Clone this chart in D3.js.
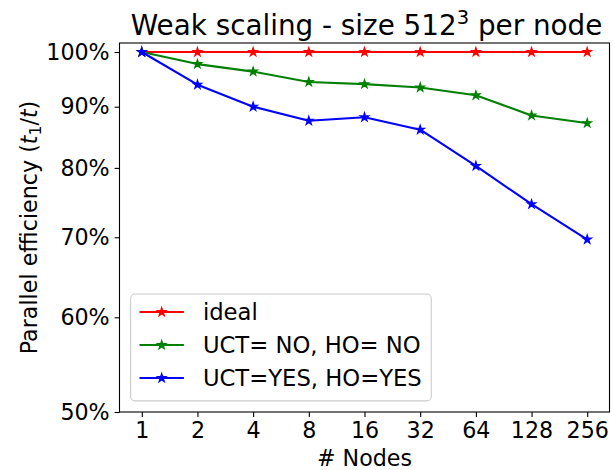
<!DOCTYPE html>
<html>
<head>
<meta charset="utf-8">
<script src="https://cdn.jsdelivr.net/npm/d3@7"></script>
<style>
  body { margin: 0; background: #fff; }
  text { font-family: "DejaVu Sans", sans-serif; fill: #000; }
</style>
</head>
<body>
<div id="chart"></div>
<script>
// data
const nodes = [1, 2, 4, 8, 16, 32, 64, 128, 256];
const ideal = [100, 100, 100, 100, 100, 100, 100, 100, 100];
const uctNo = [100, 97.7, 96.3, 94.4, 94.0, 93.4, 92.0, 88.5, 87.2];
const uctYes = [100, 93.9, 90.0, 87.6, 88.2, 86.1, 80.3, 74.6, 69.7];
const yTicks = [50, 60, 70, 80, 90, 100];
const seriesNames = ["ideal", "UCT= NO, HO= NO", "UCT=YES, HO=YES"];
const seriesColors = ["#ff0000", "#008000", "#0000ff"];

const width = 613, height = 470;
const margin = { top: 43, right: 3.5, bottom: 58, left: 119.5 };
const fs = 22.2;

const svg = d3.select("#chart")
  .append("svg")
  .attr("width", width)
  .attr("height", height);

const x = d3.scaleLog().base(2)
  .domain([Math.pow(2, -0.4), Math.pow(2, 8.4)])
  .range([margin.left, width - margin.right]);
const y = d3.scaleLog()
  .domain([50, 101.75])
  .range([height - margin.bottom, margin.top]);

// x axis
const xAxis = svg.append("g")
  .attr("transform", "translate(0," + (height - margin.bottom) + ")")
  .call(d3.axisBottom(x).tickValues(nodes).tickFormat(d => d)
    .tickSizeOuter(0).tickSize(4.9).tickPadding(4.9));
xAxis.select(".domain").remove();
xAxis.selectAll(".tick line").attr("stroke-width", 1.1);
xAxis.selectAll(".tick text").attr("font-size", fs).attr("font-family", "DejaVu Sans");

// y axis
const yAxis = svg.append("g")
  .attr("transform", "translate(" + margin.left + ",0)")
  .call(d3.axisLeft(y).tickValues(yTicks).tickFormat(d => d + "%")
    .tickSizeOuter(0).tickSize(4.9).tickPadding(4.9));
yAxis.select(".domain").remove();
yAxis.selectAll(".tick line").attr("stroke-width", 1.1);
yAxis.selectAll(".tick text").attr("font-size", fs).attr("font-family", "DejaVu Sans");

// lines + star markers
const line = d3.line()
  .x(d => x(d[0]))
  .y(d => y(d[1]));
const star = d3.symbol().type(d3.symbolStar).size(19.4);

[ideal, uctNo, uctYes].forEach((vals, i) => {
  const pts = nodes.map((n, j) => [n, vals[j]]);
  svg.append("path")
    .datum(pts)
    .attr("d", line)
    .attr("fill", "none")
    .attr("stroke", seriesColors[i])
    .attr("stroke-width", 2.1)
    .attr("stroke-linejoin", "round")
    .attr("stroke-linecap", "square");
  svg.selectAll(null)
    .data(pts)
    .enter()
    .append("path")
    .attr("d", star)
    .attr("transform", d => "translate(" + x(d[0]) + "," + y(d[1]) + ")")
    .attr("fill", seriesColors[i])
    .attr("stroke", seriesColors[i])
    .attr("stroke-width", 1.4)
    .attr("stroke-linejoin", "miter");
});

// frame
svg.append("rect")
  .attr("x", margin.left)
  .attr("y", margin.top)
  .attr("width", width - margin.right - margin.left)
  .attr("height", height - margin.bottom - margin.top)
  .attr("fill", "none")
  .attr("stroke", "#000")
  .attr("stroke-width", 1.1);

// title
const title = svg.append("text")
  .attr("x", (margin.left + width - margin.right) / 2 + 2)
  .attr("y", 34.5)
  .attr("text-anchor", "middle")
  .attr("font-size", 27.8);
title.append("tspan").text("Weak scaling - size 512");
title.append("tspan").attr("font-size", 19.5).attr("dy", -11).text("3");
title.append("tspan").attr("dy", 11).text(" per node");

// axis labels
svg.append("text")
  .attr("x", (margin.left + width - margin.right) / 2)
  .attr("y", 466)
  .attr("text-anchor", "middle")
  .attr("font-size", fs)
  .text("# Nodes");

const ylab = svg.append("text")
  .attr("transform", "translate(37," + ((margin.top + height - margin.bottom) / 2) + ") rotate(-90)")
  .attr("text-anchor", "middle")
  .attr("font-size", fs);
ylab.append("tspan").text("Parallel efficiency (");
ylab.append("tspan").attr("font-style", "oblique").text("t");
ylab.append("tspan").attr("font-size", 15.5).attr("dy", 3.5).text("1");
ylab.append("tspan").attr("dy", -3.5).text("/");
ylab.append("tspan").attr("font-style", "oblique").text("t");
ylab.append("tspan").text(")");

// legend
const lg = svg.append("g");
const lgLeft = margin.left + 11.1, lgTop = 294, rowH = 33;
const frame = lg.append("rect")
  .attr("x", lgLeft)
  .attr("y", lgTop)
  .attr("rx", 4.4)
  .attr("fill", "#fff")
  .attr("fill-opacity", 0.8)
  .attr("stroke", "#cccccc")
  .attr("stroke-width", 1.1);
let maxW = 0;
seriesNames.forEach((name, i) => {
  const cy = lgTop + 18 + i * rowH;
  lg.append("line")
    .attr("x1", lgLeft + 8.9).attr("x2", lgLeft + 8.9 + 44.4)
    .attr("y1", cy).attr("y2", cy)
    .attr("stroke", seriesColors[i])
    .attr("stroke-width", 2.1);
  lg.append("path")
    .attr("d", star)
    .attr("transform", "translate(" + (lgLeft + 8.9 + 22.2) + "," + cy + ")")
    .attr("fill", seriesColors[i])
    .attr("stroke", seriesColors[i])
    .attr("stroke-width", 1.4);
  const t = lg.append("text")
    .attr("x", lgLeft + 8.9 + 44.4 + 19)
    .attr("y", cy + 8)
    .attr("font-size", 22.7)
    .text(name);
  maxW = Math.max(maxW, t.node().getComputedTextLength());
});
frame
  .attr("width", 8.9 + 44.4 + 19 + maxW + 9.5)
  .attr("height", (height - margin.bottom - 11.1) - lgTop);
</script>
</body>
</html>
